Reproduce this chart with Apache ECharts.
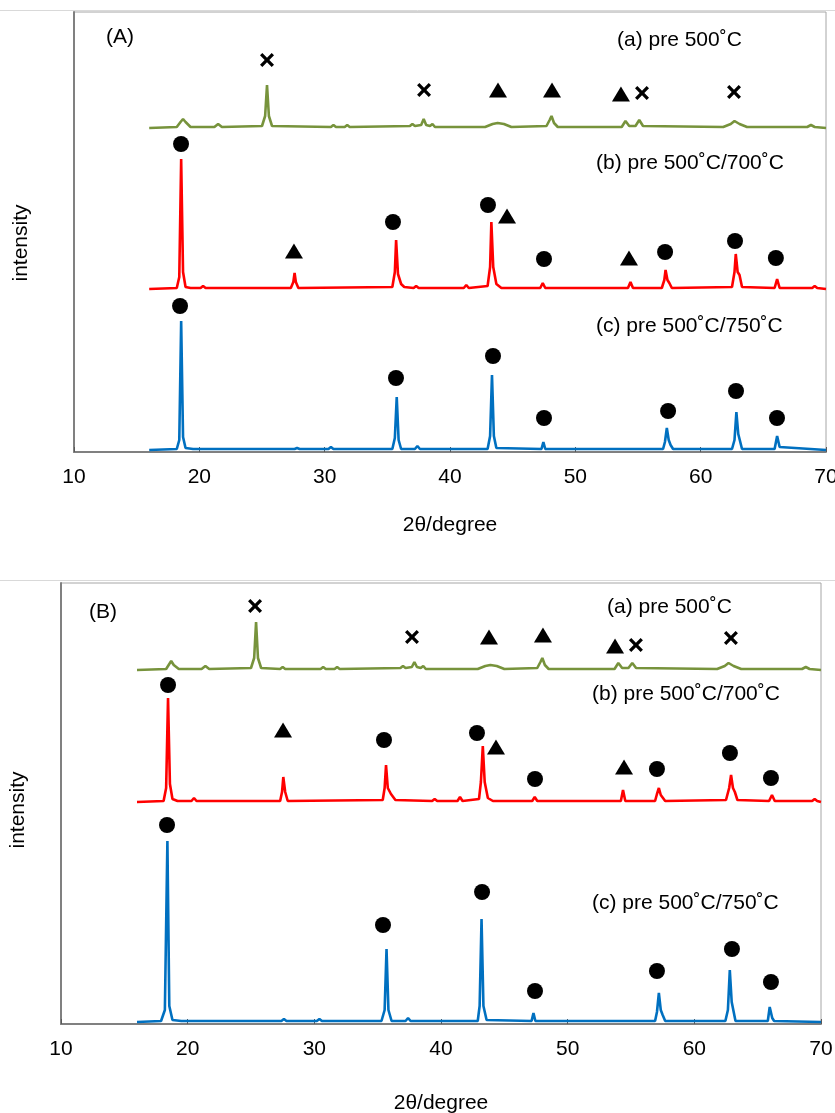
<!DOCTYPE html>
<html>
<head>
<meta charset="utf-8">
<script src="https://cdn.jsdelivr.net/npm/echarts@6/dist/echarts.min.js"></script>
<style>html,body{margin:0;padding:0;background:#fff}#c{width:835px;height:1113px}</style>
</head>
<body>
<div id="c"></div>
<script>
// ---------- DATA (2θ in degree, intensity in arbitrary offset units) ----------
const xTicks = [10, 20, 30, 40, 50, 60, 70];
const seriesNames = ['(a) pre 500˚C', '(b) pre 500˚C/700˚C', '(c) pre 500˚C/750˚C'];
const panelLabels = ['(A)', '(B)'];
const yTitle = 'intensity';
const xTitle = '2θ/degree';

// Panel A
const A_a = [[16,324],[18.2,325],[18.5,330],[18.7,333],[18.9,330],[19.3,325],[21.2,325],[21.5,328],[21.8,325],[25.0,326],[25.25,336],[25.4,367],[25.55,336],[25.8,326],[30.5,325],[30.7,327],[30.9,325],[31.6,325],[31.8,327],[32.0,325],[36.8,326],[37.0,328],[37.2,326],[37.7,327],[37.9,333],[38.1,327],[38.4,326],[38.6,328],[38.8,325],[42.8,325],[43.4,328],[43.8,329],[44.3,328],[44.9,325],[47.7,326],[47.95,332],[48.1,336],[48.3,329],[48.6,325],[53.7,325],[54.0,331],[54.3,326],[54.8,326],[55.1,332],[55.4,326],[61.8,325],[62.4,328],[62.7,331],[63.1,328],[63.7,325],[68.5,325],[68.8,327],[69.1,325],[70,324]];
const A_b = [[16,163],[18.2,164],[18.4,175],[18.55,293],[18.7,180],[18.9,165],[19.3,164],[20.1,164],[20.3,166],[20.5,164],[27.3,164],[27.5,170],[27.6,179],[27.7,170],[27.9,164],[35.4,165],[35.6,180],[35.7,212],[35.85,178],[36.1,168],[36.2,170],[36.35,165],[37.1,164],[37.3,166],[37.5,164],[41.1,164],[41.3,167],[41.5,164],[43.0,166],[43.2,185],[43.3,230],[43.45,185],[43.7,168],[44.1,164],[47.2,164],[47.4,169],[47.6,164],[54.2,164],[54.4,170],[54.6,164],[56.9,164],[57.1,172],[57.2,182],[57.35,172],[57.5,169],[57.7,164],[62.5,165],[62.7,180],[62.8,198],[62.95,180],[63.1,177],[63.3,165],[65.9,164],[66.1,173],[66.3,164],[68.9,164],[69.1,166],[69.3,164],[70,163]];
const A_c = [[16,2],[18.2,3],[18.4,12],[18.55,131],[18.7,15],[18.9,4],[19.5,3],[27.6,3],[27.8,4],[28.0,3],[30.3,3],[30.5,5],[30.7,3],[35.4,3],[35.6,14],[35.75,55],[35.9,12],[36.1,3],[37.2,3],[37.4,6],[37.6,3],[43.0,3],[43.2,16],[43.35,77],[43.5,16],[43.7,4],[47.3,3],[47.45,10],[47.6,3],[57.0,3],[57.15,10],[57.3,24],[57.45,12],[57.6,7],[57.8,3],[62.5,3],[62.7,12],[62.85,40],[63.0,18],[63.1,16],[63.3,3],[65.9,3],[66.1,16],[66.3,5],[66.4,3],[70,2]];
// Panel A phase markers
const A_cross = [[25.4,392],[37.93,362],[55.32,359],[62.66,360]];
const A_tri = [[43.83,362],[48.14,362],[53.64,358],[27.55,201],[44.55,236],[54.28,194]];
const A_dot = [[18.54,308],[35.45,230],[43.03,247],[47.5,193],[57.16,200],[62.74,211],[66.0,194],
               [18.46,146],[35.69,74],[43.43,96],[47.5,34],[57.4,41],[62.82,61],[66.09,34]];

// Panel B
const B_a = [[16,354],[18.3,355],[18.5,359],[18.7,363],[18.9,359],[19.3,355],[21.1,355],[21.4,358],[21.7,355],[25.0,356],[25.25,366],[25.4,402],[25.55,366],[25.8,356],[27.3,355],[27.5,357],[27.7,355],[30.5,355],[30.7,357],[30.9,355],[31.6,355],[31.8,357],[32.0,355],[36.8,356],[37.0,358],[37.2,356],[37.7,357],[37.9,362],[38.1,357],[38.4,356],[38.6,358],[38.8,355],[42.9,355],[43.5,358],[43.9,359],[44.4,358],[45.0,355],[47.6,356],[47.85,362],[48.0,366],[48.2,359],[48.5,355],[53.7,355],[54.0,361],[54.3,356],[54.8,356],[55.1,361],[55.4,356],[61.8,355],[62.4,358],[62.7,361],[63.1,358],[63.7,355],[68.5,355],[68.8,357],[69.1,355],[70,354]];
const B_b = [[16,222],[18.1,223],[18.3,236],[18.45,326],[18.6,240],[18.8,225],[19.2,223],[20.3,223],[20.5,226],[20.7,223],[27.3,223],[27.45,232],[27.55,247],[27.7,232],[27.9,223],[35.4,224],[35.55,236],[35.66,259],[35.8,236],[36.05,230],[36.2,232],[36.4,224],[39.3,223],[39.5,225],[39.7,223],[41.3,223],[41.5,227],[41.7,223],[43.0,225],[43.15,242],[43.3,278],[43.45,242],[43.7,226],[44.1,223],[47.2,223],[47.4,227],[47.6,223],[54.2,223],[54.37,234],[54.55,223],[56.9,223],[57.05,230],[57.2,236],[57.35,229],[57.5,227],[57.7,223],[62.5,224],[62.75,236],[62.9,249],[63.05,236],[63.2,232],[63.4,224],[65.9,223],[66.13,229],[66.35,223],[69.3,223],[69.5,225],[69.7,223],[70,222]];
const B_c = [[16,2],[17.9,3],[18.2,14],[18.4,183],[18.55,18],[18.8,4],[19.5,3],[27.4,3],[27.6,5],[27.8,3],[30.2,3],[30.4,5],[30.6,3],[35.3,3],[35.55,14],[35.7,75],[35.85,14],[36.1,3],[37.2,3],[37.4,6],[37.6,3],[42.9,3],[43.05,18],[43.2,105],[43.35,18],[43.6,4],[47.15,3],[47.3,11],[47.45,3],[56.9,3],[57.05,12],[57.2,31],[57.35,14],[57.5,9],[57.7,3],[62.45,3],[62.65,14],[62.8,54],[62.95,22],[63.05,20],[63.25,3],[65.8,3],[65.95,17],[66.15,6],[66.3,3],[70,2]];
// Panel B phase markers
const B_cross = [[25.32,418],[37.71,387],[55.39,379],[62.89,386]];
const B_tri = [[43.79,387],[48.05,389],[53.74,378],[27.53,294],[44.34,277],[54.45,257]];
const B_dot = [[18.45,339],[35.5,284],[42.84,291],[47.42,245],[57.05,255],[62.81,271],[66.05,246],
               [18.37,199],[35.42,99],[43.24,132],[47.42,33],[57.05,53],[62.97,75],[66.05,42]];

// ---------- CHART ----------
const FONT = 'Liberation Sans, Arial, sans-serif';
const FS = 21;
const colors = ['#77933c', '#ff0000', '#0070c0'];
const crossPath = 'path://M2,0 L6,4 L10,0 L12,2 L8,6 L12,10 L10,12 L6,8 L2,12 L0,10 L4,6 L0,2 Z';

function xAxis(gi, gap) {
  return {
    type: 'value', gridIndex: gi, min: xTicks[0], max: xTicks[xTicks.length - 1], interval: 10,
    name: xTitle, nameLocation: 'middle', nameGap: gap,
    nameTextStyle: { fontSize: FS, fontFamily: FONT, color: '#000' },
    axisLine: { show: true, lineStyle: { color: '#808080', width: 2 } },
    axisTick: { show: true, inside: true, length: 5, lineStyle: { color: '#595959', width: 1 } },
    axisLabel: { fontSize: FS, fontFamily: FONT, color: '#000', margin: 15 },
    splitLine: { show: false }
  };
}
function yAxis(gi, max) {
  return {
    type: 'value', gridIndex: gi, min: 0, max: max,
    axisLine: { show: true, lineStyle: { color: '#808080', width: 2 } },
    axisTick: { show: false }, axisLabel: { show: false }, splitLine: { show: false }
  };
}
function line(data, ci, ai) {
  return { type: 'line', data: data, xAxisIndex: ai, yAxisIndex: ai, showSymbol: false, symbol: 'none',
    lineStyle: { color: colors[ci], width: 2.6 }, animation: false, z: 2 };
}
function marks(data, sym, size, ai) {
  return { type: 'scatter', data: data, xAxisIndex: ai, yAxisIndex: ai, symbol: sym, symbolSize: size,
    itemStyle: { color: '#000', opacity: 1 }, animation: false, z: 5, silent: true };
}
function txt(t, x, y, align, rot) {
  return { type: 'text', x: x, y: y, z: 10, rotation: rot || 0,
    style: { text: t, fontSize: FS, fontFamily: FONT, fill: '#000', align: align || 'left', verticalAlign: 'middle' } };
}

const chart = echarts.init(document.getElementById('c'), null, { renderer: 'canvas' });
chart.setOption({
  backgroundColor: '#fff',
  animation: false,
  grid: [
    { left: 74, top: 12, width: 752, height: 440, show: true, borderColor: '#a6a6a6', borderWidth: 1,
      backgroundColor: 'transparent', containLabel: false, outerBoundsMode: 'none' },
    { left: 61, top: 583, width: 760, height: 441, show: true, borderColor: '#a6a6a6', borderWidth: 1,
      backgroundColor: 'transparent', containLabel: false, outerBoundsMode: 'none' }
  ],
  xAxis: [xAxis(0, 63), xAxis(1, 69)],
  yAxis: [yAxis(0, 440), yAxis(1, 441)],
  series: [
    line(A_a, 0, 0), line(A_b, 1, 0), line(A_c, 2, 0),
    marks(A_cross, crossPath, 14, 0), marks(A_tri, 'triangle', [18, 15], 0), marks(A_dot, 'circle', 16, 0),
    line(B_a, 0, 1), line(B_b, 1, 1), line(B_c, 2, 1),
    marks(B_cross, crossPath, 14, 1), marks(B_tri, 'triangle', [18, 15], 1), marks(B_dot, 'circle', 16, 1)
  ],
  graphic: [
    { type: 'line', shape: { x1: 0, y1: 10.5, x2: 835, y2: 10.5 }, style: { stroke: '#d9d9d9', lineWidth: 1 } },
    { type: 'line', shape: { x1: 0, y1: 580.5, x2: 835, y2: 580.5 }, style: { stroke: '#d9d9d9', lineWidth: 1 } },
    txt(yTitle, 21, 243, 'center', Math.PI / 2),
    txt(yTitle, 18, 810, 'center', Math.PI / 2),
    txt(panelLabels[0], 120, 37, 'center'),
    txt(seriesNames[0], 617, 40), txt(seriesNames[1], 596, 163), txt(seriesNames[2], 596, 326),
    txt(panelLabels[1], 103, 612, 'center'),
    txt(seriesNames[0], 607, 607), txt(seriesNames[1], 592, 694), txt(seriesNames[2], 592, 903)
  ]
});
</script>
</body>
</html>
